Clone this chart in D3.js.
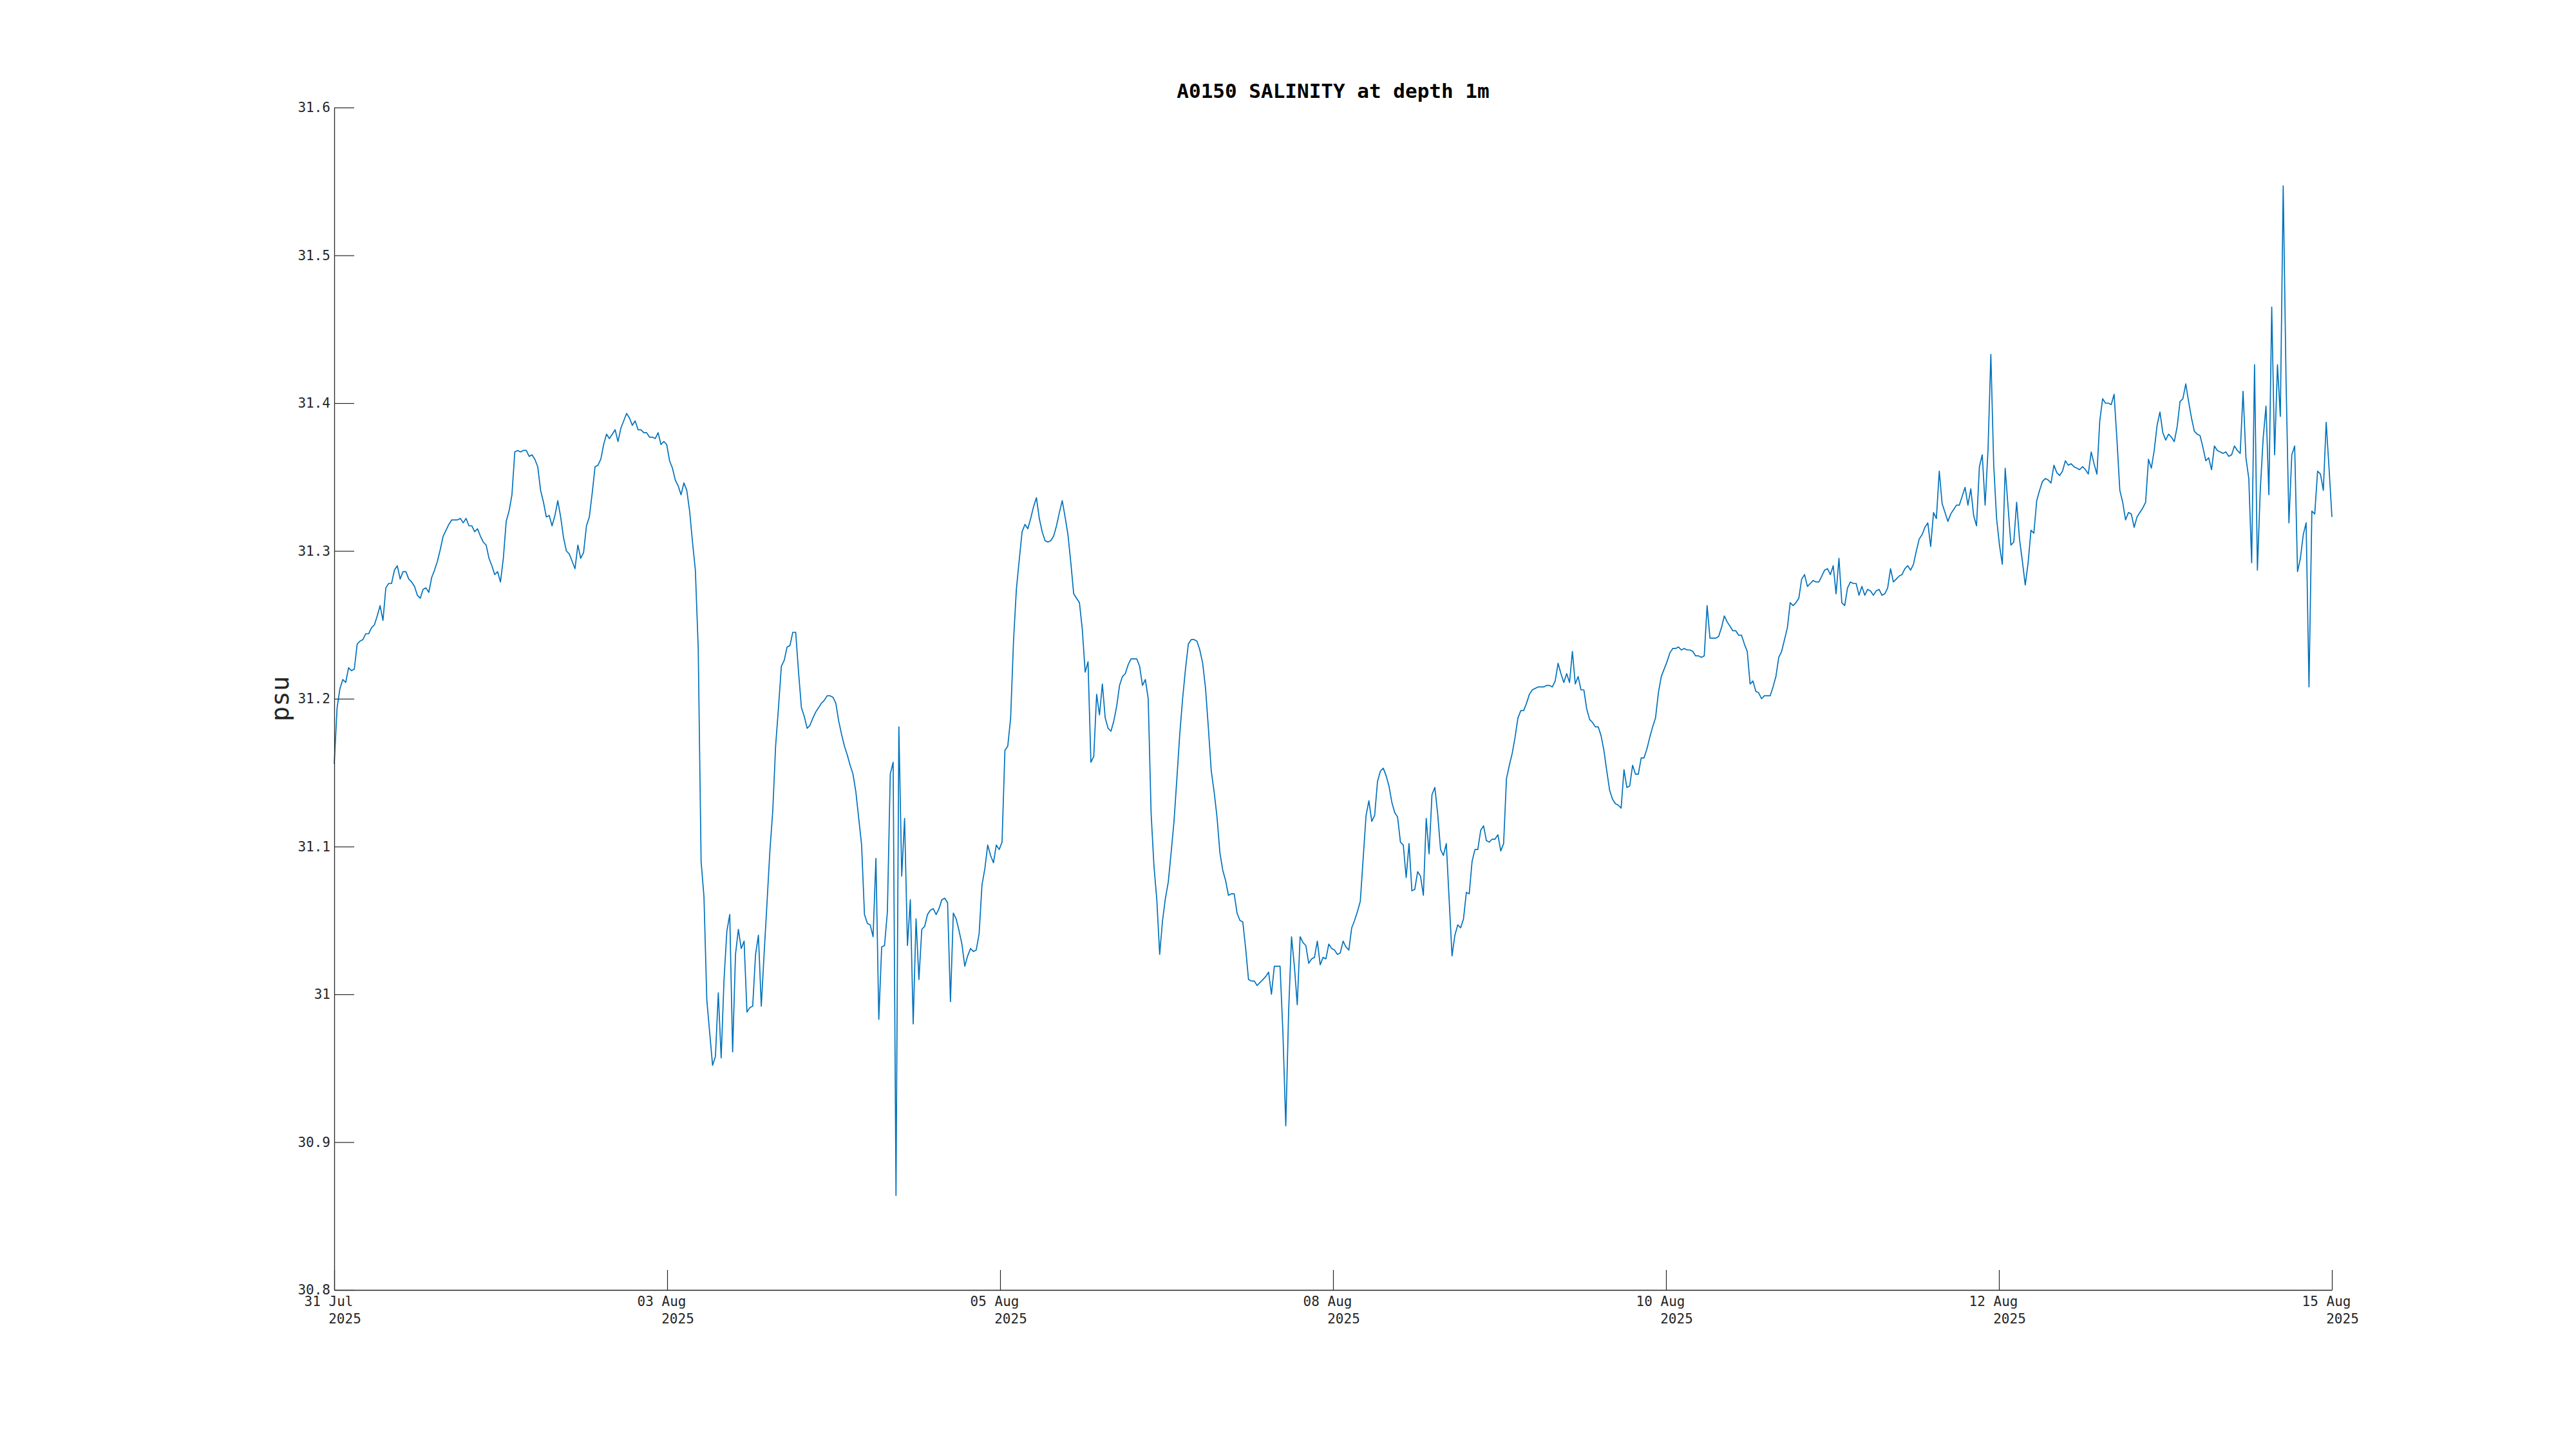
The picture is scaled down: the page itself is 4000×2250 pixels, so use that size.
<!DOCTYPE html>
<html>
<head>
<meta charset="utf-8">
<script src="https://cdn.jsdelivr.net/npm/d3@7"></script>
<style>
  html, body { margin: 0; padding: 0; background: #ffffff; }
  svg { display: block; }
</style>
</head>
<body>
<script>
// ---------------- DATA ----------------
const chartTitle = "A0150 SALINITY at depth 1m";
const yLabel = "psu";
const startTime = "2025-07-31T20:30:00Z";   // first sample
const sampleMinutes = 30;                    // regular sampling interval

// salinity (psu), 30-minute samples, split by segment
const salinityA = [
  31.156, 31.194, 31.207, 31.213, 31.211, 31.221, 31.219, 31.220, 31.237, 31.239,
  31.240, 31.244, 31.244, 31.248, 31.250, 31.256, 31.263, 31.253, 31.275, 31.278,
  31.278, 31.287, 31.290, 31.281, 31.286, 31.286, 31.281, 31.279, 31.276, 31.270,
  31.268, 31.274, 31.275, 31.272, 31.282, 31.287, 31.293, 31.301, 31.310, 31.314,
  31.318, 31.321, 31.321, 31.321, 31.322, 31.319, 31.322, 31.317, 31.317, 31.313,
  31.315, 31.310, 31.306, 31.304, 31.295, 31.290, 31.284, 31.286, 31.279, 31.295,
  31.320, 31.327, 31.338, 31.367, 31.368, 31.367, 31.368, 31.368, 31.364, 31.365,
  31.362, 31.357, 31.341, 31.333, 31.323, 31.324, 31.317, 31.324, 31.334, 31.323,
  31.309, 31.300, 31.298, 31.293, 31.288, 31.304, 31.295, 31.299, 31.317, 31.323,
  31.339, 31.357, 31.358, 31.362, 31.372, 31.379, 31.376, 31.379, 31.382, 31.374,
  31.383, 31.388, 31.393, 31.390, 31.385, 31.388, 31.382, 31.382, 31.380
];
const salinityB = [
  31.380, 31.377, 31.377, 31.376, 31.380, 31.372, 31.374, 31.372, 31.361, 31.356,
  31.348, 31.344, 31.338, 31.346, 31.341, 31.327, 31.306, 31.287, 31.234, 31.090,
  31.066, 30.996, 30.974, 30.952, 30.958, 31.001, 30.957, 31.010, 31.043, 31.054,
  30.961, 31.027, 31.044, 31.031, 31.036, 30.988, 30.991, 30.992, 31.027, 31.040,
  30.992, 31.028, 31.062, 31.097, 31.124, 31.168, 31.194, 31.222, 31.226, 31.235,
  31.236, 31.245, 31.245, 31.218, 31.194, 31.188, 31.180, 31.182, 31.187, 31.191,
  31.194, 31.197, 31.199, 31.202, 31.202, 31.201, 31.197, 31.185, 31.176, 31.168,
  31.162, 31.155, 31.149, 31.137, 31.119, 31.101, 31.054, 31.048, 31.047, 31.039,
  31.092, 30.983, 31.032, 31.033, 31.056, 31.149, 31.157, 30.864, 31.181, 31.080,
  31.119, 31.033, 31.064, 30.980, 31.051, 31.010, 31.044, 31.046, 31.054, 31.057,
  31.058, 31.054, 31.058, 31.064, 31.065, 31.062, 30.995, 31.055, 31.051, 31.043,
  31.034, 31.019, 31.026, 31.031, 31.029, 31.030, 31.041, 31.074, 31.085, 31.101,
  31.094
];
const salinityC = [
  31.089, 31.101, 31.098, 31.103, 31.165, 31.168, 31.187, 31.239, 31.274, 31.294,
  31.313, 31.318, 31.315, 31.322, 31.330, 31.336, 31.322, 31.313, 31.307, 31.306,
  31.307, 31.310, 31.317, 31.326, 31.334, 31.323, 31.311, 31.292, 31.271, 31.268,
  31.265, 31.247, 31.218, 31.225, 31.157, 31.161, 31.203, 31.189, 31.210, 31.187,
  31.180, 31.178, 31.185, 31.195, 31.209, 31.215, 31.217, 31.223, 31.227, 31.227,
  31.227, 31.222, 31.209, 31.213, 31.200, 31.123, 31.087, 31.064, 31.027, 31.050,
  31.065, 31.076, 31.096, 31.117, 31.146, 31.176, 31.200, 31.220, 31.237, 31.240,
  31.240, 31.239, 31.233, 31.224, 31.207, 31.180, 31.151, 31.137, 31.120, 31.096,
  31.084, 31.077, 31.067, 31.068, 31.068, 31.055, 31.050, 31.049, 31.031, 31.010,
  31.009, 31.009, 31.006, 31.008, 31.010, 31.012, 31.015, 31.000, 31.019, 31.019,
  31.019, 30.974, 30.911, 30.989, 31.039, 31.019, 30.993, 31.039, 31.035, 31.033,
  31.021, 31.024, 31.025, 31.036, 31.020, 31.025, 31.024, 31.034, 31.031
];
const salinityD = [
  31.030, 31.027, 31.028, 31.036, 31.032, 31.030, 31.045, 31.050, 31.056, 31.063,
  31.092, 31.121, 31.131, 31.117, 31.121, 31.144, 31.151, 31.153, 31.148, 31.141,
  31.130, 31.123, 31.120, 31.103, 31.101, 31.079, 31.102, 31.070, 31.071, 31.083,
  31.080, 31.067, 31.119, 31.095, 31.135, 31.140, 31.122, 31.098, 31.094, 31.102,
  31.064, 31.026, 31.040, 31.047, 31.045, 31.051, 31.069, 31.068, 31.090, 31.098,
  31.098, 31.111, 31.114, 31.104, 31.103, 31.105, 31.105, 31.108, 31.097, 31.102,
  31.146, 31.155, 31.163, 31.174, 31.187, 31.192, 31.192, 31.197, 31.203, 31.206,
  31.207, 31.208, 31.208, 31.208, 31.209, 31.209, 31.208, 31.212, 31.224, 31.217,
  31.211, 31.217, 31.211, 31.232, 31.210, 31.215, 31.206, 31.206, 31.193, 31.186,
  31.184, 31.181, 31.181, 31.175, 31.165, 31.151, 31.138, 31.132, 31.129, 31.128,
  31.126, 31.152, 31.140, 31.141, 31.155, 31.149, 31.149, 31.160, 31.160, 31.166,
  31.174, 31.181, 31.187, 31.204, 31.215, 31.220, 31.225, 31.231, 31.234
];
const salinityE = [
  31.234, 31.235, 31.233, 31.234, 31.233, 31.233, 31.232, 31.229, 31.229, 31.228,
  31.229, 31.263, 31.241, 31.241, 31.241, 31.242, 31.248, 31.256, 31.252, 31.249,
  31.246, 31.246, 31.243, 31.243, 31.237, 31.232, 31.210, 31.212, 31.205, 31.204,
  31.200, 31.202, 31.202, 31.202, 31.208, 31.215, 31.228, 31.232, 31.240, 31.248,
  31.265, 31.263, 31.265, 31.268, 31.281, 31.284, 31.276, 31.278, 31.280, 31.279,
  31.279, 31.283, 31.287, 31.288, 31.284, 31.290, 31.271, 31.295, 31.265, 31.263,
  31.275, 31.279, 31.278, 31.278, 31.270, 31.276, 31.270, 31.274, 31.273, 31.270,
  31.273, 31.274, 31.270, 31.271, 31.275, 31.288, 31.279, 31.281, 31.283, 31.284,
  31.288, 31.290, 31.287, 31.291, 31.300, 31.308, 31.311, 31.316, 31.319, 31.303,
  31.326, 31.322, 31.354, 31.332, 31.326, 31.320, 31.325, 31.328, 31.331, 31.331,
  31.337, 31.343, 31.331, 31.342, 31.324, 31.317, 31.357, 31.365, 31.331, 31.368,
  31.433, 31.358, 31.322, 31.304, 31.291, 31.356, 31.330, 31.304, 31.306, 31.333
];
const salinityF = [
  31.308, 31.293, 31.277, 31.292, 31.314, 31.312, 31.334, 31.341, 31.347, 31.349,
  31.348, 31.346, 31.358, 31.353, 31.351, 31.354, 31.361, 31.358, 31.359, 31.357,
  31.356, 31.355, 31.357, 31.355, 31.352, 31.367, 31.359, 31.352, 31.388, 31.403,
  31.400, 31.400, 31.399, 31.406, 31.375, 31.341, 31.333, 31.321, 31.326, 31.325,
  31.316, 31.323, 31.326, 31.329, 31.333, 31.362, 31.356, 31.368, 31.385, 31.394,
  31.380, 31.375, 31.379, 31.377, 31.374, 31.384, 31.401, 31.403, 31.413, 31.401,
  31.390, 31.381, 31.379, 31.378, 31.370, 31.361, 31.363, 31.355, 31.371, 31.368,
  31.367, 31.366, 31.367, 31.364, 31.365, 31.371, 31.368, 31.366, 31.408, 31.363,
  31.349, 31.292, 31.426, 31.287, 31.341, 31.376, 31.398, 31.338, 31.465, 31.365,
  31.426, 31.391, 31.547, 31.415, 31.319, 31.365, 31.371, 31.286, 31.295, 31.311,
  31.319, 31.208, 31.327, 31.325, 31.354, 31.352, 31.341, 31.387, 31.356, 31.323
];

// axis ticks
const xTickTimes = ["2025-07-31T20:30:00Z", "2025-08-03T06:35:00Z", "2025-08-05T16:40:00Z",
                    "2025-08-08T02:45:00Z", "2025-08-10T12:50:00Z", "2025-08-12T22:55:00Z",
                    "2025-08-15T09:00:00Z"];
const yTicks = [30.8, 30.9, 31.0, 31.1, 31.2, 31.3, 31.4, 31.5, 31.6];
const yTickLabels = ["30.8", "30.9", "31", "31.1", "31.2", "31.3", "31.4", "31.5", "31.6"];
const yDomain = [30.8, 31.6];

// ---------------- BUILD ----------------
const salinity = [].concat(salinityA, salinityB, salinityC, salinityD, salinityE, salinityF);
const t0 = new Date(startTime).getTime();
const series = salinity.map((v, i) => ({ t: new Date(t0 + i * sampleMinutes * 60000), v }));

const W = 4000, H = 2250;
const plot = { left: 519, right: 3621, top: 167, bottom: 2003 };
const FONT = "'DejaVu Sans Mono', 'Liberation Mono', monospace";
const AXC = "#262626";

const svg = d3.select("body").append("svg")
  .attr("width", W).attr("height", H)
  .attr("viewBox", `0 0 ${W} ${H}`);
svg.append("rect").attr("width", W).attr("height", H).attr("fill", "#ffffff");

const x = d3.scaleUtc()
  .domain([series[0].t, series[series.length - 1].t])
  .range([plot.left, plot.right]);
const y = d3.scaleLinear().domain(yDomain).range([plot.bottom, plot.top]);

// data line
svg.append("path")
  .datum(series)
  .attr("fill", "none")
  .attr("stroke", "#0072BD")
  .attr("stroke-width", 1.7)
  .attr("stroke-linejoin", "round")
  .attr("d", d3.line().x(d => x(d.t)).y(d => y(d.v)));

// Y axis
const yAxis = d3.axisLeft(y)
  .tickValues(yTicks)
  .tickFormat((d, i) => yTickLabels[i])
  .tickSizeInner(-31)
  .tickSizeOuter(0)
  .tickPadding(6);
const gy = svg.append("g").attr("transform", `translate(${plot.left},0)`).call(yAxis);
gy.select(".domain").attr("stroke", AXC).attr("stroke-width", 1.3);
gy.selectAll(".tick line").attr("stroke", AXC).attr("stroke-width", 1.2);
gy.selectAll(".tick text")
  .attr("fill", AXC)
  .style("font-family", FONT)
  .style("font-size", "21px");

// X axis
const dayFmt = d3.utcFormat("%d %b");
const yearFmt = d3.utcFormat("%Y");
const xTicks = xTickTimes.map(s => new Date(s));
const xAxis = d3.axisBottom(x)
  .tickValues(xTicks)
  .tickFormat("")
  .tickSizeInner(-31)
  .tickSizeOuter(0);
const gx = svg.append("g").attr("transform", `translate(0,${plot.bottom})`).call(xAxis);
gx.select(".domain").attr("stroke", AXC).attr("stroke-width", 1.3);
gx.selectAll(".tick line").attr("stroke", AXC).attr("stroke-width", 1.2);
gx.selectAll(".tick text").remove();
gx.selectAll(".tick").each(function(d) {
  const g = d3.select(this);
  g.append("text")
    .attr("x", -9).attr("y", 25)
    .attr("text-anchor", "middle")
    .attr("fill", AXC)
    .style("font-family", FONT).style("font-size", "21px")
    .text(dayFmt(d));
  g.append("text")
    .attr("x", 16).attr("y", 52)
    .attr("text-anchor", "middle")
    .attr("fill", AXC)
    .style("font-family", FONT).style("font-size", "21px")
    .text(yearFmt(d));
});

// title
svg.append("text")
  .attr("x", (plot.left + plot.right) / 2)
  .attr("y", 152)
  .attr("text-anchor", "middle")
  .attr("fill", "#000000")
  .style("font-family", FONT)
  .style("font-weight", "bold")
  .style("font-size", "31px")
  .text(chartTitle);

// y label
svg.append("text")
  .attr("transform", `translate(448,${(plot.top + plot.bottom) / 2}) rotate(-90)`)
  .attr("text-anchor", "middle")
  .attr("fill", AXC)
  .style("font-family", FONT)
  .style("font-size", "39px")
  .text(yLabel);
</script>
</body>
</html>
